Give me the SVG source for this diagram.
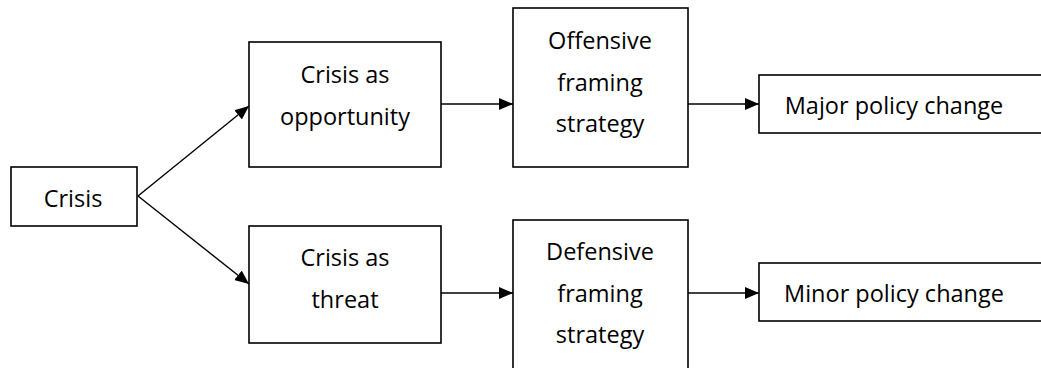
<svg xmlns="http://www.w3.org/2000/svg" width="1041" height="368" viewBox="0 0 1041 368">
  <style>
    .box { fill: #ffffff; stroke: #000000; stroke-width: 1.6; }
    .lbl { font-family: "Open Sans", "Noto Sans", sans-serif; font-size: 23.5px; fill: #000000; text-anchor: middle; }
    .edge { stroke: #000000; stroke-width: 1.4; fill: none; marker-end: url(#head); }
  </style>
  <defs>
    <marker id="head" viewBox="0 0 14 12" refX="14" refY="6" markerWidth="14" markerHeight="12" markerUnits="userSpaceOnUse" orient="auto">
      <path d="M0,0 L14,6 L0,12 Z" fill="#000000"/>
    </marker>
  </defs>
  <rect width="1041" height="368" fill="#ffffff"/>

  <g id="connectors">
    <line class="edge" x1="138" y1="196" x2="249" y2="106"/>
    <line class="edge" x1="138" y1="196" x2="249" y2="284"/>
    <line class="edge" x1="441" y1="104" x2="513" y2="104"/>
    <line class="edge" x1="441" y1="293" x2="513" y2="293"/>
    <line class="edge" x1="688" y1="104" x2="759" y2="104"/>
    <line class="edge" x1="688" y1="293" x2="759" y2="293"/>
  </g>

  <g id="crisis">
    <rect class="box" x="11" y="167" width="126" height="59"/>
    <text class="lbl" x="73" y="207">Crisis</text>
  </g>

  <g id="opportunity">
    <rect class="box" x="249" y="42" width="192" height="125"/>
    <text class="lbl" x="345" y="83">Crisis as</text>
    <text class="lbl" x="345" y="125">opportunity</text>
  </g>

  <g id="threat">
    <rect class="box" x="249" y="226" width="192" height="117"/>
    <text class="lbl" x="345" y="266">Crisis as</text>
    <text class="lbl" x="345" y="308">threat</text>
  </g>

  <g id="offensive">
    <rect class="box" x="513" y="8" width="175" height="159"/>
    <text class="lbl" x="600" y="49">Offensive</text>
    <text class="lbl" x="600" y="91">framing</text>
    <text class="lbl" x="600" y="132">strategy</text>
  </g>

  <g id="defensive">
    <rect class="box" x="513" y="220" width="175" height="160"/>
    <text class="lbl" x="600" y="260">Defensive</text>
    <text class="lbl" x="600" y="302">framing</text>
    <text class="lbl" x="600" y="343">strategy</text>
  </g>

  <g id="major">
    <rect class="box" x="759" y="75" width="300" height="58"/>
    <text class="lbl" x="894" y="114">Major policy change</text>
  </g>

  <g id="minor">
    <rect class="box" x="759" y="263" width="300" height="58"/>
    <text class="lbl" x="894" y="302">Minor policy change</text>
  </g>
</svg>
